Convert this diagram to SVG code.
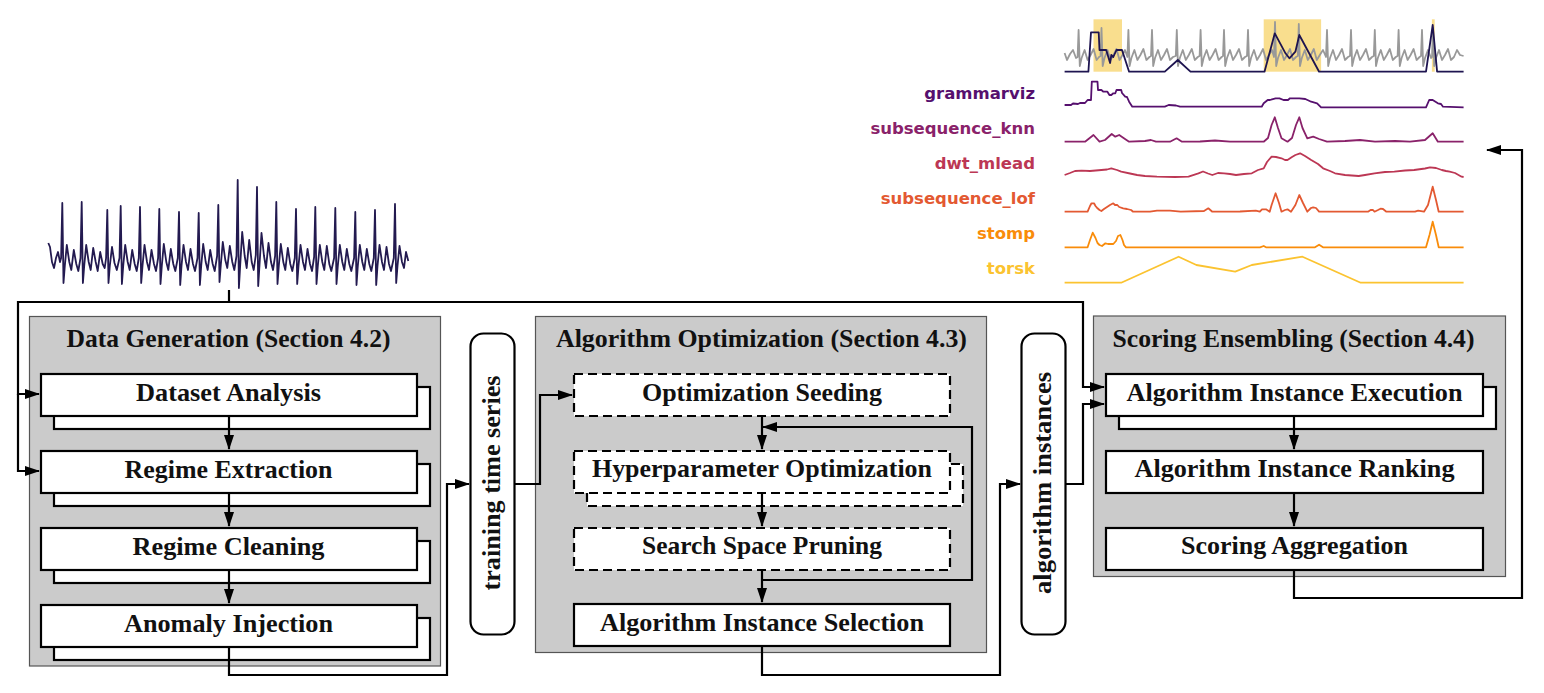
<svg xmlns="http://www.w3.org/2000/svg" width="1544" height="693" viewBox="0 0 1544 693">
<style>
.panel{fill:#cbcbcb;stroke:#555;stroke-width:1.2}
.box{fill:#fff;stroke:#000;stroke-width:2.2}
.dbox{fill:#fff;stroke:#000;stroke-width:2.2;stroke-dasharray:9 5}
.cap{fill:#fff;stroke:#000;stroke-width:2.2}
.lbl{font-family:"Liberation Serif","Times New Roman",serif;font-weight:bold;font-size:24.5px;fill:#111;text-anchor:middle}
.ser{font-family:"DejaVu Sans",sans-serif;font-weight:bold;font-size:16.5px;text-anchor:end}
.conn{fill:none;stroke:#000;stroke-width:2.2}
.plot{fill:none;stroke-width:1.8;stroke-linejoin:round}
</style>
<defs>
<marker id="ah" markerWidth="15" markerHeight="10" refX="14" refY="5" orient="auto" markerUnits="userSpaceOnUse">
<path d="M0,0 L15,5 L0,10 z" fill="#000"/>
</marker>
</defs>

<g id="input-series">
<polyline class="plot" stroke="#231a50" stroke-width="1.6" points="48.3,243 50,247 52,262 54,268 56,258 58,252 60,262 61.1,258 62.3,203 63.5,283 64.8,266 66.8,245 69.3,262 71.3,270 73.8,250 76.3,264 78.3,271 80.5,258 81.7,202 82.9,283 84.2,266 86.2,245 88.7,262 90.7,270 93.2,248 95.7,262 97.7,271 100.2,252 102.7,264 104.7,268 106.1,258 107.3,210 108.5,283 109.8,266 112,247 114.5,263 116.8,270 119.5,258 120.7,206 121.9,284 123.2,266 125.2,245 127.7,262 129.7,270 132.2,250 134.7,264 136.7,271 138.8,258 140,207 141.2,283 142.5,266 144.5,245 147,262 149,270 151.5,250 154,264 156,271 158.1,258 159.3,209 160.5,284 161.8,266 163.8,244 166.3,262 168.3,270 170.8,249 173.3,264 175.3,271 177.8,258 179,212 180.2,285 181.5,266 183.5,245 186,262 188,270 190.5,249 193,264 195,271 197.5,258 198.7,213 199.9,285 201.2,266 203.2,244 205.7,262 207.7,270 210.2,250 212.7,264 214.7,271 217.1,256 218.3,205 219.5,282 220.8,265 222.8,242 225.3,260 227.3,268 229.8,246 232.3,262 234.3,270 236.5,256 237.7,180 238.9,288 240.2,265 242.2,232 244.7,256 246.7,268 249.2,240 251.7,262 253.7,270 255.8,255 257,187 258.2,286 259.5,265 261.5,233 264,256 266,268 268.5,243 271,262 273,270 275.1,256 276.3,202 277.5,284 278.8,266 280.8,244 283.3,262 285.3,270 287.8,248 290.3,264 292.3,271 294.8,258 296,209 297.2,284 298.5,266 300.5,245 303,262 305,270 307.5,249 310,264 312,271 314.1,257 315.3,207 316.5,284 317.8,266 319.8,245 322.3,262 324.3,270 326.8,246 329.3,264 331.3,271 334.1,258 335.3,208 336.5,284 337.8,266 339.8,245 342.3,262 344.3,270 346.8,249 349.3,264 351.3,271 354.1,258 355.3,212 356.5,285 357.8,266 359.8,245 362.3,262 364.3,270 366.8,249 369.3,264 371.3,271 373.8,258 375,210 376.2,285 377.5,266 379.5,245 382,262 384,270 386.5,247 389,264 391,271 393.8,258 395,204 396.2,283 397.5,266 399.5,246 402,262 404,268 406,252 408.3,261"/>
</g>

<g id="score-plots">
<rect x="1093.5" y="19.3" width="28.5" height="52.4" fill="#f5c842" fill-opacity="0.6"/>
<rect x="1263.7" y="19.3" width="57.4" height="52.4" fill="#f5c842" fill-opacity="0.6"/>
<rect x="1431.9" y="19.3" width="2.8" height="52.4" fill="#f5c842" fill-opacity="0.6"/>
<polyline class="plot" stroke="#999" points="1064.6,53 1067,60 1070,54 1073,50 1076,58 1077.6,57 1078.6,30 1079.8,66 1081.6,58 1084.6,50 1087.6,60 1090.6,55 1093.6,49 1096.6,60 1099,57 1100.5,56 1101.5,28 1102.7,66 1104.5,58 1107.5,50 1110.5,60 1113.5,55 1116.5,49 1119.5,60 1122.5,55 1125,50 1127.4,57 1128.4,30 1129.6,66 1131.4,58 1134.4,50 1137.4,60 1140.4,55 1143.4,49 1146.4,60 1149.4,57 1151,56 1152,30 1153.2,66 1155,58 1158,50 1161,60 1164,55 1167,49 1170,60 1173,57 1175.8,56 1176.8,30 1178,66 1179.8,58 1182.8,50 1185.8,60 1188.8,55 1191.8,49 1194.8,60 1197.8,57 1199.6,56 1200.6,30 1201.8,66 1203.6,58 1206.6,50 1209.6,60 1212.6,55 1215.6,49 1218.6,60 1221.6,57 1223,56 1224,30 1225.2,66 1227,58 1230,50 1233,60 1236,55 1239,49 1242,60 1245,57 1247,56 1248,30 1249.2,66 1251,58 1254,50 1257,60 1260,55 1263,49 1266,60 1269,55 1272,50 1274,57 1275,22 1276.2,66 1278,58 1281,50 1284,60 1287,55 1290,49 1293,60 1296,57 1297.8,56 1298.8,24 1300,66 1301.8,58 1304.8,50 1307.8,60 1310.8,55 1313.8,49 1316.8,60 1319.8,55 1323,50 1326,57 1327,30 1328.2,66 1330,58 1333,50 1336,60 1339,55 1342,49 1345,60 1348,57 1350,56 1351,30 1352.2,66 1354,58 1357,50 1360,60 1363,55 1366,49 1369,60 1372,57 1373.8,56 1374.8,30 1376,66 1377.8,58 1380.8,50 1383.8,60 1386.8,55 1389.8,49 1392.8,60 1395.8,57 1397.6,56 1398.6,30 1399.8,66 1401.6,58 1404.6,50 1407.6,60 1410.6,55 1413.6,49 1416.6,60 1419.6,57 1421,56 1422,30 1423.2,66 1425,58 1428,50 1431,58 1432,57 1433,28 1434.2,66 1436,58 1439,50 1442,60 1445,55 1448,49 1451,60 1454,57 1457,50 1460,55 1463.6,56"/>
<polyline class="plot" stroke="#1e1450" points="1064.6,71.7 1088.4,71.7 1091,32.3 1098.7,32.3 1099.5,50 1106.2,50 1108,56 1110.1,63 1111.3,55 1113.3,57 1116.5,50 1122,50 1129.1,71.7 1164.8,71.7 1177.8,60 1190.5,71.7 1264.5,71.7 1274.8,33.3 1285.5,53.3 1289.4,58.3 1295.4,51.7 1299.3,35 1319.1,71.7 1426,71.7 1432.7,25 1437.1,71.7 1463.6,71.7"/>
<polyline class="plot" stroke="#56106e" points="1064.6,105 1071,105 1073,103.5 1078,104 1080,103 1085,103 1087.6,100 1091,100 1091.8,81.7 1097.5,81.7 1098,90 1101.4,90 1103.4,91.7 1107.4,91.7 1109.4,95 1111.3,95 1113.3,93.3 1115.3,93.3 1116.5,90 1121.2,90 1122,93 1125.2,96.7 1127,97 1129.1,101.7 1132.3,106.7 1164.8,106.7 1168.7,105 1176,105.5 1180,106.7 1261.7,106.7 1263.7,103.3 1267.7,100 1270,100 1275.6,98.3 1279.5,98.3 1283.5,100 1288,100 1290,98.3 1299.3,98.3 1305.3,99 1311.2,101.7 1317.1,103.3 1321.1,107.3 1426,107.3 1429.2,100 1432.7,100 1437.9,103.3 1441,104 1443,106.7 1463.6,107.3"/>
<polyline class="plot" stroke="#8a226a" points="1064.6,141.7 1085,141.7 1093.5,135 1099.5,141.7 1105,140 1111.7,134 1115.3,136.7 1119.2,135 1125,139 1129.1,141.7 1145,141 1150.9,140 1156,141.7 1170,141.7 1176.6,138.3 1182,141.7 1200,141.5 1215,140.5 1230,141.7 1263.7,141.7 1268,138 1271.6,125 1274.8,117.3 1278,128 1281.5,138.3 1287.5,141.7 1292,138 1296,125 1299.3,117.3 1302.5,128 1307.3,138.3 1313.2,136.7 1319.1,139 1327,141.7 1345,141 1360,140 1375,141.7 1395,141 1410,141.7 1425,140 1432.7,133.3 1437.9,141.7 1463.6,141.7"/>
<polyline class="plot" stroke="#bc3754" points="1064.6,175 1070,173 1075,171 1081.6,170.7 1090,171 1101.4,170 1107,169.5 1111.3,168.3 1117,170 1121.2,171.7 1130,173.5 1137.1,175 1145,176 1156.9,176.7 1175,177 1188.5,176.7 1198.4,173.3 1203,171.5 1208,173.5 1212.3,175 1218,173 1224.1,173.3 1230,174 1236,175 1244,174 1251.8,173.3 1258,170 1263.7,168.3 1267,162 1271.6,156.7 1276,157 1281.5,158.3 1285,160 1287.5,160 1292,157 1295.4,155 1300.1,153.3 1305,156 1311.2,160 1318,164 1323.1,168.3 1330,171 1335,173.3 1345,175 1358.7,176 1365,175 1374.5,173.3 1385,172 1394.3,171.7 1405,170.5 1414.1,170 1425,168.5 1430,167.3 1436,168 1441.8,170 1446,171 1449.7,171.7 1455,173 1461.6,176.7 1463.6,177"/>
<polyline class="plot" stroke="#e35932" points="1064.6,211.7 1087.6,211.7 1090,206 1091.5,203.3 1094,203.3 1095.5,206 1097.5,208.3 1099.5,210 1101.4,211 1104,209 1107.4,206.7 1110,205 1113.3,203.3 1115,205 1117.3,205 1119.2,207 1123.2,208.3 1127,209 1131.1,210 1133.1,211.7 1150,211.7 1157,210.7 1170,210.7 1180.6,211.7 1204,211 1208.3,208.3 1212.3,211.7 1240,211.5 1255.8,210.7 1259.8,211.7 1262,209.3 1266,209.3 1269.7,211.7 1271.6,205 1275.6,193.3 1279,203 1281.5,211.7 1285,210 1287.5,209.3 1291,211.7 1295.4,205 1299.3,195 1303,203 1307.3,211.7 1311,208 1313.2,207.3 1316,208 1319.1,211.7 1368,211.7 1370.6,210 1373,210 1374.5,211.7 1378,210 1380.5,208.7 1383,209 1386.4,211.7 1415,211.7 1418.1,210.7 1424,211.7 1428,205 1432.7,186.7 1436,200 1438.7,211.7 1463.6,211.7"/>
<polyline class="plot" stroke="#f98c0a" points="1064.6,247.3 1087.6,247.3 1090,240 1092.7,232.7 1095.5,238 1097.5,243 1099.5,245 1102,246 1105.4,243.3 1108,244 1113.3,244 1116,241 1118,236 1120.4,235 1122.5,240 1124,245 1126,247.3 1260,247.3 1263.7,246 1266,247.3 1315,247.3 1319.1,244.7 1323,247.3 1426,247.3 1429.5,235 1432.7,221.7 1436,235 1438.7,247.3 1463.6,247.3"/>
<polyline class="plot" stroke="#fbc330" points="1064.6,282.7 1121.2,282.7 1178.6,256.7 1196.4,265 1235.2,271.7 1251.8,265 1302.5,256.7 1360.7,282.7 1463.6,282.7"/>
<text class="ser" x="1035" y="99" fill="#56106e">grammarviz</text>
<text class="ser" x="1035" y="134" fill="#8a226a">subsequence_knn</text>
<text class="ser" x="1035" y="169" fill="#bc3754">dwt_mlead</text>
<text class="ser" x="1035" y="204" fill="#e35932">subsequence_lof</text>
<text class="ser" x="1035" y="239" fill="#f98c0a">stomp</text>
<text class="ser" x="1035" y="274" fill="#fbc330">torsk</text>
</g>

<g id="data-generation">
<rect class="panel" x="29.5" y="316.5" width="411" height="349.5"/>
<text class="lbl" x="228.5" y="347" textLength="324" lengthAdjust="spacingAndGlyphs">Data Generation (Section 4.2)</text>
</g>
<g id="dataset-analysis">
<rect class="box" x="54" y="387" width="376" height="42"/>
<rect class="box" x="41" y="374" width="376" height="42"/>
<text class="lbl" x="228.5" y="401" textLength="185" lengthAdjust="spacingAndGlyphs">Dataset Analysis</text>
</g>
<g id="regime-extraction">
<rect class="box" x="54" y="464" width="376" height="42"/>
<rect class="box" x="41" y="451" width="376" height="42"/>
<text class="lbl" x="228.5" y="478" textLength="208" lengthAdjust="spacingAndGlyphs">Regime Extraction</text>
</g>
<g id="regime-cleaning">
<rect class="box" x="54" y="541" width="376" height="42"/>
<rect class="box" x="41" y="528" width="376" height="42"/>
<text class="lbl" x="228.5" y="555" textLength="192" lengthAdjust="spacingAndGlyphs">Regime Cleaning</text>
</g>
<g id="anomaly-injection">
<rect class="box" x="54" y="618" width="376" height="42"/>
<rect class="box" x="41" y="605" width="376" height="42"/>
<text class="lbl" x="228.5" y="632" textLength="209" lengthAdjust="spacingAndGlyphs">Anomaly Injection</text>
</g>

<g id="training-time-series">
<rect class="cap" x="470.5" y="333.5" width="44" height="301" rx="13"/>
<text class="lbl" transform="translate(500,483) rotate(-90)" x="0" y="0" textLength="215" lengthAdjust="spacingAndGlyphs">training time series</text>
</g>

<g id="algorithm-optimization">
<rect class="panel" x="535.5" y="316.5" width="451" height="336"/>
<text class="lbl" x="761.5" y="347" textLength="411" lengthAdjust="spacingAndGlyphs">Algorithm Optimization (Section 4.3)</text>
</g>
<g id="optimization-seeding">
<rect class="dbox" x="574" y="374" width="376" height="42"/>
<text class="lbl" x="762" y="401" textLength="240" lengthAdjust="spacingAndGlyphs">Optimization Seeding</text>
</g>
<g id="hyperparameter-optimization">
<rect class="dbox" x="587" y="464" width="376" height="42"/>
<rect class="dbox" x="574" y="451" width="376" height="42"/>
<text class="lbl" x="762" y="477" textLength="340" lengthAdjust="spacingAndGlyphs">Hyperparameter Optimization</text>
</g>
<g id="search-space-pruning">
<rect class="dbox" x="574" y="528" width="376" height="42"/>
<text class="lbl" x="762" y="554" textLength="240" lengthAdjust="spacingAndGlyphs">Search Space Pruning</text>
</g>
<g id="algorithm-instance-selection">
<rect class="box" x="574" y="604" width="376" height="42"/>
<text class="lbl" x="762" y="631" textLength="324" lengthAdjust="spacingAndGlyphs">Algorithm Instance Selection</text>
</g>

<g id="algorithm-instances">
<rect class="cap" x="1021.5" y="333.5" width="44" height="301" rx="13"/>
<text class="lbl" transform="translate(1051,483) rotate(-90)" x="0" y="0" textLength="222" lengthAdjust="spacingAndGlyphs">algorithm instances</text>
</g>

<g id="scoring-ensembling">
<rect class="panel" x="1093.5" y="316" width="412" height="260.5"/>
<text class="lbl" x="1293.5" y="347" textLength="362" lengthAdjust="spacingAndGlyphs">Scoring Ensembling (Section 4.4)</text>
</g>
<g id="algorithm-instance-execution">
<rect class="box" x="1119" y="387" width="377" height="42"/>
<rect class="box" x="1106" y="374" width="377" height="42"/>
<text class="lbl" x="1294.5" y="401" textLength="336" lengthAdjust="spacingAndGlyphs">Algorithm Instance Execution</text>
</g>
<g id="algorithm-instance-ranking">
<rect class="box" x="1106" y="451" width="377" height="42"/>
<text class="lbl" x="1294.5" y="477" textLength="320" lengthAdjust="spacingAndGlyphs">Algorithm Instance Ranking</text>
</g>
<g id="scoring-aggregation">
<rect class="box" x="1106" y="528" width="377" height="42"/>
<text class="lbl" x="1294.5" y="554" textLength="227" lengthAdjust="spacingAndGlyphs">Scoring Aggregation</text>
</g>

<g id="connectors">
<path class="conn" d="M229,290 V302"/>
<path class="conn" d="M229,302 H18 V394 H39" marker-end="url(#ah)"/>
<path class="conn" d="M18,394 V471 H39" marker-end="url(#ah)"/>
<path class="conn" d="M229,302 H1083 V387 H1104" marker-end="url(#ah)"/>
<path class="conn" d="M229,417 V449" marker-end="url(#ah)"/>
<path class="conn" d="M229,494 V526" marker-end="url(#ah)"/>
<path class="conn" d="M229,571 V603" marker-end="url(#ah)"/>
<path class="conn" d="M229,648 V675 H447 V484 H469" marker-end="url(#ah)"/>
<path class="conn" d="M515,484 H540 V395 H572" marker-end="url(#ah)"/>
<path class="conn" d="M762,417 V449" marker-end="url(#ah)"/>
<path class="conn" d="M762,580 H972 V427 H763" marker-end="url(#ah)"/>
<path class="conn" d="M762,494 V526" marker-end="url(#ah)"/>
<path class="conn" d="M762,571 V602" marker-end="url(#ah)"/>
<path class="conn" d="M762,647 V675 H1000 V484 H1020" marker-end="url(#ah)"/>
<path class="conn" d="M1066,484 H1083 V404 H1104" marker-end="url(#ah)"/>
<path class="conn" d="M1294,417 V449" marker-end="url(#ah)"/>
<path class="conn" d="M1294,494 V526" marker-end="url(#ah)"/>
<path class="conn" d="M1294,571 V598 H1522 V150 H1487" marker-end="url(#ah)"/>
</g>
</svg>
